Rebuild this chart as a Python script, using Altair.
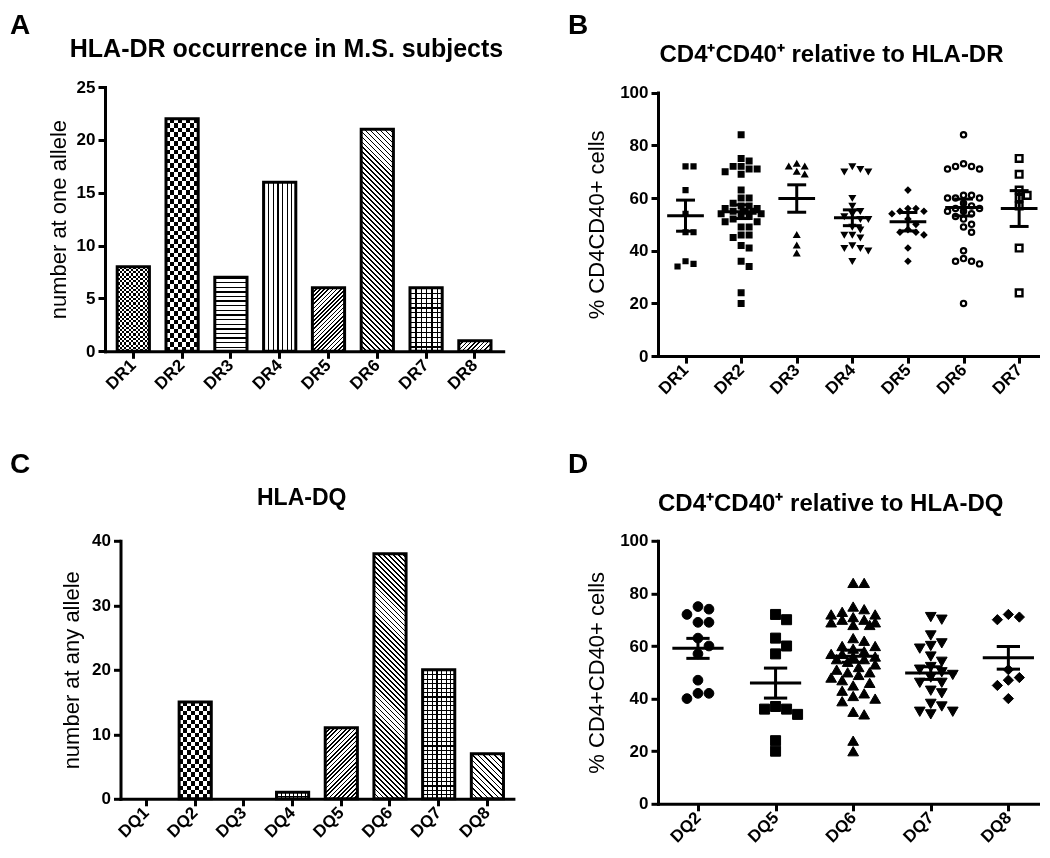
import math
import altair as alt
import pandas as pd

FONT = "Liberation Sans"

# ---------------- data ----------------
dr_alleles = ["DR1", "DR2", "DR3", "DR4", "DR5", "DR6", "DR7", "DR8"]
dr_counts = [8, 22, 7, 16, 6, 21, 6, 1]

dq_alleles = ["DQ1", "DQ2", "DQ3", "DQ4", "DQ5", "DQ6", "DQ7", "DQ8"]
dq_counts = [0, 15, 0, 1, 11, 38, 20, 7]

b_groups = ["DR1", "DR2", "DR3", "DR4", "DR5", "DR6", "DR7"]
b_dr1 = [72, 72, 63, 54, 47, 47, 36, 35, 34]
b_dr2 = [84, 75, 74, 72, 72, 71, 71, 70, 69, 63, 60, 60, 58, 57, 57, 56, 56, 55, 55,
         55, 54, 54, 53, 53, 52, 51, 51, 49, 49, 46, 46, 45, 42, 41, 36, 34, 24, 20]
b_dr3 = [73, 72, 72, 70, 69, 46, 42, 39]
b_dr4 = [72, 71, 70, 70, 60, 57, 55, 54, 53, 52, 52, 49, 48, 46, 46, 45, 42, 41, 41, 40, 36]
b_dr5 = [63, 56, 56, 55, 55, 54, 52, 50, 48, 47, 47, 46, 41, 36]
b_dr6 = [84, 73, 72, 72, 71, 71, 61, 61, 60, 60, 60, 58, 57, 56, 56, 55, 55, 54, 53, 52,
         50, 49, 47, 40, 37, 36, 36, 35, 20]
b_dr7 = [75, 69, 63, 61, 60, 57, 41, 24]
b_means = [53.3, 54.8, 59.8, 52.5, 51.0, 56.4, 56.0]
b_sems = [5.9, 2.6, 5.2, 3.0, 3.5, 3.2, 6.8]

d_groups = ["DQ2", "DQ5", "DQ6", "DQ7", "DQ8"]
d_dq2 = [75, 74, 72, 69, 69, 63, 60, 57, 47, 42, 42, 40]
d_dq5 = [72, 70, 63, 60, 57, 37, 36, 36, 34, 24, 20]
d_dq6 = [84, 84, 75, 74, 73, 72, 72, 71, 70, 70, 69, 69, 68, 68, 63, 62, 60, 60, 59, 58,
         57, 57, 56, 56, 55, 55, 54, 53, 52, 51, 50, 50, 49, 48, 47, 46, 45, 43, 42, 41,
         40, 39, 35, 34, 24, 20]
d_dq7 = [71, 70, 64, 61, 60, 59, 56, 54, 52, 51, 50, 49, 48, 46, 46, 43, 42, 38, 37, 35, 35, 34]
d_dq8 = [72, 71, 70, 51, 48, 47, 45, 40]
d_means = [59.1, 45.9, 56.1, 49.7, 55.5]
d_sems = [3.8, 5.7, 2.3, 2.4, 4.3]

title_a = "HLA-DR occurrence in M.S. subjects"
title_b = "CD4\u207aCD40\u207a relative to HLA-DR"
title_c = "HLA-DQ"
title_d = "CD4\u207aCD40\u207a relative to HLA-DQ"
ytitle_a = "number at one allele"
ytitle_b = "% CD4CD40+ cells"
ytitle_c = "number at any allele"
ytitle_d = "% CD4+CD40+ cells"

# ---------------- styles ----------------
pat_a = {"DR1": ("checker", 2.2, 0.5), "DR2": ("checker", 4.4, 0.5), "DR3": ("h", 4.6, 0.3),
         "DR4": ("v", 4.3, 0.25), "DR5": ("fwd", 3.0, 0.4), "DR6": ("back", 3.5, 0.35),
         "DR7": ("grid", 5.0, 0.25), "DR8": ("fwd", 3.0, 0.35)}
pat_c = {"DQ1": ("h", 4, 0.3), "DQ2": ("checker", 4.4, 0.5), "DQ3": ("h", 4, 0.3),
         "DQ4": ("grid", 4.0, 0.3), "DQ5": ("fwd", 3.0, 0.4), "DQ6": ("back", 3.5, 0.35),
         "DQ7": ("grid", 4.5, 0.25), "DQ8": ("back", 4.0, 0.3)}
sty_b = {"DR1": ("square", 22, "black", 1.5), "DR2": ("square", 30, "black", 1.5),
         "DR3": ("triangle-up", 30, "black", 1.5), "DR4": ("triangle-down", 30, "black", 1.5),
         "DR5": ("diamond", 30, "black", 1.5), "DR6": ("circle", 28, "white", 2.2),
         "DR7": ("square", 44, "white", 2.4)}
sty_d = {"DQ2": ("circle", 95, "black", 1), "DQ5": ("square", 100, "black", 1),
         "DQ6": ("triangle-up", 115, "black", 1), "DQ7": ("triangle-down", 115, "black", 1),
         "DQ8": ("diamond", 105, "black", 1)}


def stops(n, frac, dark, light):
    n = max(1, int(round(n)))
    out = []
    for k in range(n):
        a, b, c = k / n, (k + frac) / n, (k + 1) / n
        out += [{"offset": round(a, 5), "color": dark}, {"offset": round(b, 5), "color": dark},
                {"offset": round(b, 5), "color": light}, {"offset": round(c, 5), "color": light}]
    return out


def grad(x1, y1, x2, y2, st):
    return {"gradient": "linear", "x1": x1, "y1": y1, "x2": x2, "y2": y2, "stops": st}


def pattern_fills(kind, w, h, p, f):
    if kind == "v":
        return [(grad(0, 0, 1, 0, stops(w / p, f, "black", "white")), None)]
    if kind == "h":
        return [(grad(0, 0, 0, 1, stops(h / p, f, "black", "white")), None)]
    if kind in ("fwd", "back"):
        s = (w * w + h * h) / (w + h)
        a, b = w / s, h / s
        st = stops((w + h) / (p * math.sqrt(2)), f, "black", "white")
        if kind == "fwd":
            return [(grad(0, 0, a, b, st), None)]
        return [(grad(0, 1, a, 1 - b, st), None)]
    if kind == "checker":
        return [(grad(0, 0, 1, 0, stops(w / (2 * p), 0.5, "black", "white")), None),
                (grad(0, 0, 0, 1, stops(h / (2 * p), 0.5, "white", "black")), "difference")]
    return [(grad(0, 0, 1, 0, stops(w / p, f, "black", "white")), None),
            (grad(0, 0, 0, 1, stops(h / p, f, "black", "rgba(0,0,0,0)")), None)]


def note(text, x, y, size, align="left", baseline="top", weight="bold", opacity=1):
    return alt.Chart(pd.DataFrame({"t": [text]})).mark_text(
        align=align, baseline=baseline, fontSize=size, fontWeight=weight, font=FONT,
        color="black", opacity=opacity).encode(text="t:N", x=alt.value(x), y=alt.value(y))


def bar_panel(cats, counts, pats, W, H, xoff, ymax, yvals, po, ytitle, ytx, title, tpos,
              tsize, letter, lpos, helpers=()):
    pi = 0.34
    df = pd.DataFrame({"allele": cats, "count": counts})
    step = W / (len(cats) - pi + 2 * po)
    bw = step * (1 - pi)
    upx = H / ymax
    X = alt.X("allele:N", sort=cats,
              scale=alt.Scale(domain=cats, paddingInner=pi, paddingOuter=po,
                              range=[xoff, xoff + W]),
              axis=alt.Axis(title=None))
    Y = alt.Y("count:Q", scale=alt.Scale(domain=[0, ymax], nice=False),
              axis=alt.Axis(values=yvals, title=ytitle, titleX=ytx, titleY=H / 2,
                            offset=-xoff))
    layers = []
    for cat, cnt in zip(cats, counts):
        if cnt <= 0:
            continue
        kind, p, f = pats[cat]
        for fill, blend in pattern_fills(kind, bw, cnt * upx, p, f):
            kw = dict(fill=fill, strokeWidth=0)
            if blend:
                kw["blend"] = blend
            layers.append(alt.Chart(df).transform_filter(alt.datum.allele == cat)
                          .mark_bar(**kw).encode(x=X, y=Y))
    layers.append(alt.Chart(df).transform_filter(alt.datum["count"] > 0)
                  .mark_bar(fill="white", fillOpacity=0, stroke="black", strokeWidth=3)
                  .encode(x=X, y=Y))
    layers.append(note(title, tpos[0], tpos[1], tsize, align="center", baseline="alphabetic"))
    layers.append(note(letter, lpos[0], lpos[1], 28))
    for hx, hy, ha in helpers:
        layers.append(note(".", hx, hy, 10, align=ha, opacity=0))
    return alt.layer(*layers).properties(width=xoff + W, height=H)


def swarm(vals, upx, dpx, maxw):
    order = sorted(range(len(vals)), key=lambda i: -vals[i])
    placed, offs = [], [0.0] * len(vals)
    for i in order:
        y = vals[i] * upx
        best, bestd, k = 0.0, -1.0, 0
        while True:
            m = (k + 1) // 2
            x = 0.0 if k == 0 else (m if k % 2 else -m) * dpx * 0.5
            if abs(x) > maxw:
                break
            md = min([math.hypot(x - px, y - py) for px, py in placed] or [1e9])
            if md >= 0.92 * dpx:
                best = x
                break
            if md > bestd:
                best, bestd = x, md
            k += 1
        placed.append((best, y))
        offs[i] = best
    return offs


def scatter_panel(groups, vals_lists, means, sems, styles, W, H, yoff, dom, dpx, maxw, ytitle,
                  ytx, title, tpos, tsize, letter, lpos, mhalf, chalf, helpers=()):
    n = len(groups)
    step = W / (dom[1] - dom[0])
    upx = H / 100.0
    rows = []
    for i, (g, vals) in enumerate(zip(groups, vals_lists)):
        offs = swarm(vals, upx, dpx, maxw)
        for v, o in zip(vals, offs):
            rows.append({"allele": g, "xpos": i + o / step, "pct": v})
    pts = pd.DataFrame(rows)
    stats = pd.DataFrame({"allele": groups, "idx": list(range(n)), "mean": means, "sem": sems})
    label_expr = "[" + ",".join("'%s'" % g for g in groups) + "][datum.value]"
    xs = alt.Scale(domain=dom, nice=False, zero=False)
    xa = alt.Axis(values=list(range(n)), labelExpr=label_expr, title=None)
    ys = alt.Scale(domain=[0, 100], nice=False, range=[yoff + H, yoff])
    ya = alt.Axis(values=[0, 20, 40, 60, 80, 100], title=ytitle, titleX=ytx,
                  titleY=yoff + H / 2)
    layers = []
    for g in groups:
        shape, size, fill, sw = styles[g]
        layers.append(alt.Chart(pts).transform_filter(alt.datum.allele == g)
                      .mark_point(shape=shape, size=size, filled=True, fill=fill, stroke="black",
                                  strokeWidth=sw, opacity=1)
                      .encode(x=alt.X("xpos:Q", scale=xs, axis=xa),
                              y=alt.Y("pct:Q", scale=ys, axis=ya)))
    base = alt.Chart(stats).transform_calculate(
        lo="datum.idx - %f" % mhalf, hi="datum.idx + %f" % mhalf,
        clo="datum.idx - %f" % chalf, chi="datum.idx + %f" % chalf,
        up="datum.mean + datum.sem", dn="datum.mean - datum.sem")
    rule = dict(color="black", strokeWidth=3)
    layers.append(base.mark_rule(**rule).encode(
        x=alt.X("lo:Q", scale=xs, axis=xa), x2="hi:Q", y=alt.Y("mean:Q", scale=ys, axis=ya)))
    layers.append(base.mark_rule(**rule).encode(
        x=alt.X("clo:Q", scale=xs, axis=xa), x2="chi:Q", y=alt.Y("up:Q", scale=ys, axis=ya)))
    layers.append(base.mark_rule(**rule).encode(
        x=alt.X("clo:Q", scale=xs, axis=xa), x2="chi:Q", y=alt.Y("dn:Q", scale=ys, axis=ya)))
    layers.append(base.mark_rule(**rule).encode(
        x=alt.X("idx:Q", scale=xs, axis=xa), y=alt.Y("dn:Q", scale=ys, axis=ya), y2="up:Q"))
    layers.append(note(title, tpos[0], tpos[1], tsize, align="center", baseline="alphabetic"))
    layers.append(note(letter, lpos[0], lpos[1], 28))
    for hx, hy, ha in helpers:
        layers.append(note(".", hx, hy, 10, align=ha, opacity=0))
    return alt.layer(*layers).properties(width=W, height=yoff + H)


A = bar_panel(dr_alleles, dr_counts, pat_a, 398.2, 264.3, 0, 25, [0, 5, 10, 15, 20, 25], 0.25,
              ytitle_a, -46.7, title_a, (181.5, -29.7), 25, "A", (-95, -74.7))
B = scatter_panel(b_groups, [b_dr1, b_dr2, b_dr3, b_dr4, b_dr5, b_dr6, b_dr7], b_means,
                  b_sems, sty_b, 382, 263.5, 5.6, [-0.495, 6.375], 8, 20, ytitle_b, -61.5,
                  title_b, (173.5, -24.7), 24, "B", (-90, -74.7), 0.33, 0.17,
                  helpers=[(0, 320, "left")])
C = bar_panel(dq_alleles, dq_counts, pat_c, 392.9, 258, 15.5, 40, [0, 10, 20, 30, 40], 0.204,
              ytitle_c, -48.8, title_c, (196.7, -35.5), 23, "C", (-95, -89.5),
              helpers=[(420, 0, "right")])
D = scatter_panel(d_groups, [d_dq2, d_dq5, d_dq6, d_dq7, d_dq8], d_means, d_sems, sty_d,
                  382, 263, 0, [-0.515, 4.4076], 11, 24, ytitle_d, -61.5, title_d,
                  (172.7, -29.8), 24, "D", (-90, -89.5), 0.33, 0.15)

chart = alt.concat(
    A, B, C, D, columns=2, spacing={"row": 33.8, "column": 43}, align="each", bounds="full"
).properties(
    padding={"left": 2, "top": 4, "right": 0, "bottom": 0}
).configure_view(stroke=None).configure_axis(
    domainColor="black", domainWidth=3, domainCap="square", tickColor="black", tickWidth=3,
    tickSize=7, labelColor="black", labelFont=FONT, labelFontWeight="bold", labelFontSize=17,
    labelFlush=False, labelOverlap=False, labelPadding=3, titleFont=FONT, titleFontSize=22,
    titleFontWeight="normal", titleColor="black", grid=False
).configure_axisX(
    labelAngle=315, labelAlign="right", labelBaseline="middle", labelPadding=4
).configure_axisY(
    titleAngle=270, titleBaseline="middle", titleAlign="center"
)

chart.save("out.html", embed_options={"renderer": "svg", "actions": False})
